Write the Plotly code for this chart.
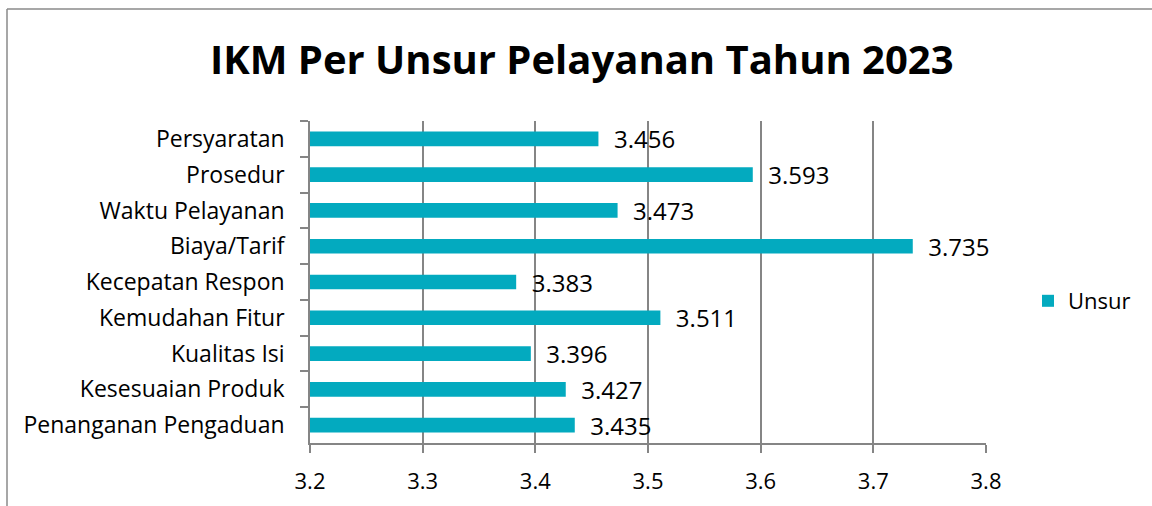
import plotly.graph_objects as go

categories = ["Persyaratan", "Prosedur", "Waktu Pelayanan", "Biaya/Tarif",
              "Kecepatan Respon", "Kemudahan Fitur", "Kualitas Isi",
              "Kesesuaian Produk", "Penanganan Pengaduan"]
values = [3.456, 3.593, 3.473, 3.735, 3.383, 3.511, 3.396, 3.427, 3.435]
x_ticks = [3.2, 3.3, 3.4, 3.5, 3.6, 3.7, 3.8]
series_name = "Unsur"
title = "IKM Per Unsur Pelayanan Tahun 2023"

W, H = 1152, 506
L, R, T, B = 310, 166, 121, 63
pw, ph = W - L - R, H - T - B

def px(x):
    return (x - L) / pw

def py(y):
    return (H - B - y) / ph

FONT = "Open Sans"
BAR = "#03AABF"
GRID = "#858585"

fig = go.Figure()
fig.add_trace(go.Bar(
    y=categories, x=values, orientation="h", name=series_name,
    marker=dict(color=BAR, line=dict(width=0)),
    text=["  " + f"{v:.3f}" for v in values],
    textposition="outside", constraintext="none", cliponaxis=False,
    textfont=dict(family=FONT, size=24, color="#000000"),
    width=0.41,
))

fig.update_layout(
    width=W, height=H,
    margin=dict(l=L, r=R, t=T, b=B, autoexpand=False),
    paper_bgcolor="white", plot_bgcolor="white",
    title=dict(text="<b>" + title + "</b>", x=0.505, xanchor="center",
               y=1 - 60 / H, yanchor="middle",
               font=dict(family=FONT, size=40, color="#000000")),
    font=dict(family=FONT, color="#000000"),
    showlegend=True,
    legend=dict(x=px(1028), y=py(301), xanchor="left", yanchor="middle",
                font=dict(family=FONT, size=22, color="#000000"),
                itemwidth=30, bgcolor="rgba(0,0,0,0)"),
    xaxis=dict(range=[3.2, 3.8], tickvals=x_ticks,
               ticktext=[f"{t:.1f}" for t in x_ticks],
               showgrid=True, gridcolor=GRID, gridwidth=1.6,
               showline=True, linecolor=GRID, linewidth=1.6,
               ticks="outside", ticklen=8, tickcolor=GRID, tickwidth=1.6,
               ticklabelstandoff=10, zeroline=False,
               tickfont=dict(family=FONT, size=22, color="#000000")),
    yaxis=dict(autorange="reversed", type="category", tickson="boundaries",
               showline=True, linecolor=GRID, linewidth=1.6,
               ticks="outside", ticklen=8, tickcolor=GRID, tickwidth=1.6,
               ticklabelstandoff=19, showgrid=False,
               tickfont=dict(family=FONT, size=23, color="#000000")),
    shapes=[
        dict(type="line", xref="paper", yref="paper",
             x0=px(7), x1=px(1200), y0=py(9), y1=py(9),
             line=dict(color="#8A8A8A", width=1.5)),
        dict(type="line", xref="paper", yref="paper",
             x0=px(7), x1=px(7), y0=py(9), y1=py(560),
             line=dict(color="#8A8A8A", width=1.5)),
    ],
)

fig.write_html(
    "out.html",
    config={"displayModeBar": False},
    post_script="document.body.style.margin='0';document.body.style.overflow='hidden';",
)
